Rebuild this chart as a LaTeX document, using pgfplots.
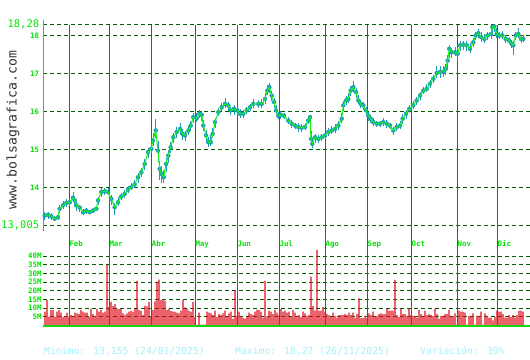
\documentclass[border=0pt]{standalone}
\usepackage{pgfplots}
\pgfplotsset{compat=1.18}
\usepackage{pgfplotstable}
\usepackage{fontspec}
\newfontfamily\mono{DejaVu Sans Mono}
\definecolor{tealc}{RGB}{25,155,185}
\definecolor{cgreen}{RGB}{20,245,20}
\definecolor{lgreen}{RGB}{0,230,0}
\definecolor{mgreen}{RGB}{0,140,0}
\definecolor{dgreen}{RGB}{0,90,0}
\definecolor{axgreen}{RGB}{20,215,20}
\definecolor{vred}{RGB}{225,15,30}
\definecolor{lcyan}{RGB}{165,240,250}
\pgfplotstableread{
x c hp hm
44.7 13.26 0.10 0.12
48 13.28 0.08 0.10
51.3 13.24 0.08 0.10
54.7 13.18 0.08 0.06
58 13.22 0.10 0.08
59.7 13.44 0.10 0.12
63 13.53 0.12 0.10
66.3 13.59 0.12 0.10
69.7 13.61 0.10 0.10
73 13.73 0.15 0.10
74.7 13.66 0.10 0.15
76.3 13.53 0.10 0.15
79.7 13.47 0.08 0.12
83 13.35 0.08 0.08
86.3 13.39 0.06 0.08
89.7 13.35 0.06 0.06
93 13.39 0.06 0.06
96.3 13.44 0.08 0.06
98 13.66 0.10 0.12
101.3 13.88 0.10 0.12
104.7 13.90 0.08 0.10
108 13.88 0.10 0.08
111.3 13.70 0.10 0.15
114.7 13.48 0.10 0.20
118 13.61 0.15 0.10
121.3 13.76 0.10 0.10
124.7 13.83 0.10 0.10
128 13.94 0.10 0.08
131.3 14.01 0.10 0.08
134.7 14.08 0.12 0.10
138 14.27 0.10 0.15
141.3 14.40 0.12 0.12
144.7 14.62 0.12 0.15
148 14.93 0.12 0.15
151.3 15.02 0.15 0.12
153 15.24 0.20 0.15
155.7 15.50 0.30 0.20
158 14.97 0.25 0.30
159.7 14.49 0.20 0.30
161.3 14.36 0.20 0.25
163.7 14.27 0.20 0.15
166 14.62 0.15 0.20
168.3 14.84 0.15 0.20
170.7 15.06 0.15 0.15
173.3 15.32 0.12 0.15
176.7 15.46 0.12 0.15
180 15.54 0.15 0.15
182.7 15.41 0.12 0.15
185 15.37 0.12 0.15
188.3 15.50 0.12 0.12
190.7 15.63 0.12 0.15
193.3 15.85 0.10 0.15
196.7 15.82 0.15 0.10
199.3 15.94 0.10 0.12
201.7 15.91 0.10 0.15
203.3 15.63 0.15 0.15
206 15.37 0.15 0.20
208.3 15.19 0.15 0.12
210.7 15.19 0.20 0.10
212.7 15.41 0.15 0.12
215 15.72 0.12 0.15
218.3 15.98 0.12 0.10
221.7 16.11 0.12 0.10
225 16.20 0.15 0.10
228.3 16.16 0.10 0.15
230.7 16.03 0.10 0.12
234 16.07 0.10 0.15
237.3 16.03 0.10 0.12
240 15.94 0.12 0.10
243.3 15.94 0.10 0.12
246.7 16.03 0.10 0.10
250 16.11 0.10 0.10
253.3 16.20 0.12 0.10
258.3 16.20 0.10 0.10
261.7 16.20 0.12 0.10
265 16.33 0.15 0.12
267.3 16.55 0.15 0.12
269.3 16.64 0.12 0.15
271.7 16.42 0.12 0.15
274 16.25 0.10 0.15
276 16.03 0.15 0.10
278.3 15.89 0.10 0.10
280.7 15.91 0.10 0.10
284 15.89 0.08 0.10
288.3 15.76 0.10 0.10
291.7 15.68 0.10 0.12
295 15.63 0.08 0.10
298.3 15.59 0.10 0.12
301.7 15.57 0.10 0.10
305 15.59 0.12 0.08
308.3 15.76 0.10 0.10
310 15.85 0.05 0.15
311 15.28 0.20 0.10
312.3 15.15 0.15 0.10
315 15.32 0.08 0.15
318.3 15.28 0.10 0.10
321.7 15.32 0.10 0.10
325 15.37 0.10 0.10
328.3 15.46 0.10 0.10
331.7 15.50 0.12 0.10
335 15.54 0.12 0.10
338.3 15.63 0.12 0.12
341.7 15.81 0.15 0.10
343.3 16.16 0.12 0.15
346 16.29 0.12 0.12
348.3 16.33 0.15 0.10
350.7 16.55 0.12 0.15
353.3 16.64 0.15 0.12
356 16.51 0.12 0.15
358.3 16.29 0.15 0.10
360.7 16.20 0.10 0.12
363.3 16.16 0.10 0.12
366 16.03 0.10 0.15
368.3 15.89 0.10 0.15
370.7 15.81 0.10 0.12
373.3 15.72 0.10 0.10
376.7 15.68 0.08 0.10
380 15.68 0.08 0.10
383.3 15.72 0.10 0.10
386.7 15.68 0.10 0.12
390 15.63 0.08 0.10
393.3 15.50 0.10 0.12
396.7 15.59 0.10 0.10
400 15.63 0.12 0.10
402.7 15.81 0.12 0.15
406 15.94 0.10 0.15
409.3 16.07 0.10 0.12
413.3 16.16 0.12 0.10
416.7 16.29 0.10 0.12
420 16.42 0.10 0.12
423.3 16.55 0.10 0.10
426.7 16.60 0.12 0.10
430 16.73 0.10 0.12
433.3 16.86 0.10 0.12
436.7 17.01 0.20 0.12
440 17.04 0.15 0.15
443.3 17.04 0.15 0.12
445.7 17.12 0.12 0.15
447.7 17.34 0.15 0.20
449.3 17.65 0.10 0.25
451.7 17.56 0.12 0.15
455 17.56 0.15 0.10
457.7 17.52 0.15 0.20
460 17.74 0.12 0.15
463.3 17.76 0.10 0.15
466.7 17.74 0.12 0.15
470 17.65 0.15 0.12
473.3 17.82 0.12 0.12
475.7 18.00 0.10 0.12
478.3 18.06 0.10 0.12
481 17.96 0.12 0.12
484.3 17.91 0.12 0.10
487.7 18.00 0.10 0.12
491 18.04 0.15 0.12
492.3 18.22 0.05 0.15
494.3 18.24 0.03 0.15
496.7 18.04 0.15 0.10
499 18.00 0.10 0.10
502.3 18.00 0.12 0.10
505.7 17.91 0.10 0.10
509 17.87 0.10 0.10
511.7 17.78 0.10 0.12
513.3 17.74 0.12 0.25
515.7 18.00 0.10 0.12
518.3 18.04 0.15 0.10
521 17.91 0.10 0.10
523.3 17.91 0.10 0.08
}\price
\pgfplotstableread{
x v
45 8.0
47 14.7
49 5.1
51 9.0
53 9.0
55 5.1
57 8
59 9
61 7.5
63 5
65 5.5
67 7.5
69 5
71 6
73 5.5
75 7.5
77 7
79 6.5
81 9
83 8
85 7.5
87 7.5
89 5
91 9.8
93 6.5
95 5.5
97 9.5
99 8
101 9
103 7.5
105 8
107 35
109 10.7
111 13.6
113 11.2
115 12.3
117 9.5
119 9.5
121 9.8
123 7
125 6
127 7
129 8
131 8.5
133 8
135 9.5
137 25.7
139 9
141 8.5
143 6
145 11.5
147 11
149 13.6
151 5
153 9
155 14
157 25.3
159 26.5
161 14.7
163 15
165 14.2
167 9
169 9.8
171 8.5
173 8
175 8
177 7.5
179 7
181 8.6
183 14.7
185 10.5
187 9.8
189 8.6
191 8
193 13.6
195 5
197 0.3
199 7.5
201 0.5
203 0.5
205 0.5
207 8
209 7.5
211 7
213 6
215 8.6
217 5
219 6.5
221 6
223 7
225 8.6
227 5
229 7
231 8
233 4
235 20.5
237 5.5
239 8
241 5.5
243 4.6
245 4
247 5
249 7.5
251 6.5
253 6
255 8
257 9
259 9
261 8
263 4.6
265 25.7
267 5
269 8.6
271 8
273 6.5
275 9
277 7.5
279 6
281 9.6
283 8
285 8.6
287 7.5
289 8
291 5
293 9
295 7.5
297 5.5
299 6
301 5
303 8
305 7
307 5.5
309 6
311 28.2
313 11.2
315 8.6
317 43.6
319 8.6
321 8.6
323 10.6
325 8
327 6.5
329 6
331 5
333 7.5
335 5.5
337 4.6
339 6
341 6
343 6
345 6.5
347 6
349 7.5
351 6
353 7.5
355 4.6
357 6.5
359 15.7
361 4.2
363 4.2
365 5.5
367 4.2
369 7
371 6
373 8
375 5.5
377 5.5
379 6.5
381 7
383 6.5
385 6.5
387 9.8
389 8.6
391 8.6
393 8.6
395 26.3
397 6
399 5
401 9.4
403 6.5
405 6.5
407 5.5
409 9.8
411 6
413 5.5
415 5.5
417 4.6
419 9
421 6.5
423 5.5
425 8.6
427 6
429 6.5
431 6
433 5.5
435 9.8
437 6.5
439 4
441 5.5
443 5.5
445 6.5
447 6.5
449 9
451 5.5
453 5.5
455 7
457 0.5
459 8.6
461 8
463 8
465 7.5
467 0.5
469 5.5
471 5.5
473 7
475 0.5
477 5.5
479 5.5
481 8
483 0.5
485 7
487 5.5
489 4.6
491 4.6
493 3
495 5
497 8.6
499 8
501 8
503 6.5
505 4.6
507 4.6
509 6
511 5
513 6
515 4.6
517 6
519 8.6
521 8.6
523 8
}\vol
\pgfplotsset{pricebox/.style={
  at={(43.3bp,134.7bp)}, anchor=south west, scale only axis,
  width=486.7bp, height=200.45bp,
  xmin=43.3, xmax=530, ymin=13.005, ymax=18.28, clip=false}}
\begin{document}
\begin{tikzpicture}
\useasboundingbox (0bp,0bp) rectangle (530bp,360bp);
\fill[white] (0bp,0bp) rectangle (530bp,360bp);
% price panel
\begin{axis}[
  pricebox,
  axis line style={draw=none}, tick style={draw=none},
  xtick=\empty,
  ytick={14,15,16,17,18}, yticklabels={14,15,16,17,18},
  ymajorgrids, grid style={draw=dgreen, line width=1bp, dash pattern=on 4bp off 3bp},
  extra y ticks={13.005,18.28}, extra y tick labels={13{,}005,18{,}28},
  extra y tick style={grid=major, yticklabel style={font=\mono\fontsize{10.5}{10.5}\selectfont}},
  yticklabel style={font=\mono\bfseries\fontsize{7.5}{7.5}\selectfont, text=lgreen, inner sep=0pt, anchor=east, xshift=-4bp},
]
\pgfplotsinvokeforeach{69.3,109.3,151.7,195.3,237.3,279.3,325.3,367.3,411.3,457.3,497.3}{
  \draw[mgreen, line width=1bp] (axis cs:#1,18.28) -- (axis cs:#1,12.355);
}
\draw[axgreen, line width=1bp] (axis cs:43.3,12.86) -- (axis cs:43.3,18.41);
\addplot[tealc, only marks, mark=none,
  error bars/.cd, y dir=both, y explicit, error mark=none,
  error bar style={line width=0.9bp, tealc}]
  table[x=x, y=c, y error plus=hp, y error minus=hm] {\price};
\end{axis}
% close line on top
\begin{axis}[pricebox, hide axis]
\addplot[cgreen, line width=1bp] table[x=x, y=c] {\price};
\end{axis}
% volume panel
\begin{axis}[
  at={(43.3bp,34.5bp)}, anchor=south west, scale only axis,
  width=486.7bp, height=75.5bp,
  xmin=43.3, xmax=530, ymin=0, ymax=43.6,
  axis line style={draw=none}, tick style={draw=none},
  xtick=\empty,
  ytick={5,10,15,20,25,30,35,40}, yticklabels={5M,10M,15M,20M,25M,30M,35M,40M},
  ymajorgrids, grid style={draw=dgreen, line width=1bp, dash pattern=on 4bp off 3bp},
  yticklabel style={font=\mono\bfseries\fontsize{7.5}{7.5}\selectfont, text=lgreen, inner sep=0pt, anchor=east, xshift=-1.5bp},
  clip=false,
]
\pgfplotsinvokeforeach{69.3,109.3,151.7,195.3,237.3,279.3,325.3,367.3,411.3,457.3,497.3}{
  \draw[mgreen, line width=1bp] (axis cs:#1,0) -- (axis cs:#1,43.6);
}
\addplot[ybar, bar width=1.4bp, fill=vred, draw=none] table[x=x, y=v] {\vol};
\draw[axgreen, line width=1.5bp] (axis cs:43.3,-0.3) -- (axis cs:530,-0.3);
\end{axis}
% month labels
\begin{scope}[every node/.style={anchor=base west, inner sep=0pt, text=lgreen, font=\mono\bfseries\fontsize{7.5}{7.5}\selectfont}]
\node at (69.3bp,113bp) {Feb};
\node at (109.3bp,113bp) {Mar};
\node at (151.7bp,113bp) {Abr};
\node at (195.3bp,113bp) {May};
\node at (237.3bp,113bp) {Jun};
\node at (279.3bp,113bp) {Jul};
\node at (325.3bp,113bp) {Ago};
\node at (367.3bp,113bp) {Sep};
\node at (411.3bp,113bp) {Oct};
\node at (457.3bp,113bp) {Nov};
\node at (497.3bp,113bp) {Dic};
\end{scope}
% bottom text
\begin{scope}[every node/.style={anchor=base west, inner sep=0pt, text=lcyan, font=\mono\fontsize{9.8}{9.8}\selectfont}]
\node at (44bp,5.7bp) {Mínimo: 13,155 (24/01/2025)};
\node at (235bp,5.7bp) {Maximo: 18,27 (26/11/2025)};
\node at (420bp,5.7bp) {Variación: 39\%};
\end{scope}
\node[rotate=90, inner sep=0pt, text=black!80, font=\mono\fontsize{13.2}{13.2}\selectfont] at (13bp,230bp) {www.bolsagrafica.com};
\end{tikzpicture}
\end{document}
